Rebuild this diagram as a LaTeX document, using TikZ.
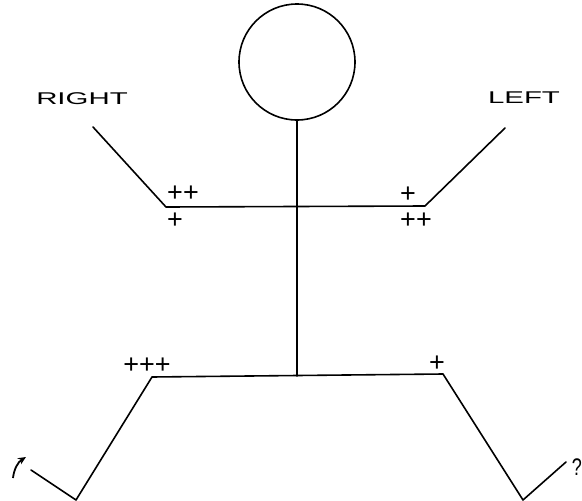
\documentclass[tikz,border=0pt]{standalone}
\usepackage{fontspec}
\setmainfont{Liberation Sans}
\usetikzlibrary{arrows.meta}
\tikzset{
  limb/.style={line width=1.6pt, line cap=round, line join=round},
  sidelabel/.style={inner sep=0pt, font=\fontsize{17}{17}\selectfont},
  plus/.style={inner sep=0pt, font=\fontsize{27}{27}\selectfont},
}
\begin{document}
\begin{tikzpicture}[x=1pt,y=-1pt]
\useasboundingbox (0,0) rectangle (582,501);
% joints
\coordinate (pelvis) at (297,376);
\coordinate (shR) at (166,207);
\coordinate (shL) at (425,206);
\coordinate (handR) at (93,127);
\coordinate (handL) at (505,128);
\coordinate (hipR) at (152,377);
\coordinate (hipL) at (443,374);
\coordinate (kneeR) at (76,500);
\coordinate (kneeL) at (523,500);
\coordinate (footR) at (31,470);
\coordinate (footL) at (566,462);
% head
\node[circle, draw, line width=1.6pt, minimum size=116pt, inner sep=0pt] (head) at (297,62) {};
% body
\draw[limb] (head.south) -- (pelvis);
\draw[limb] (handR) -- (shR) -- (shL) -- (handL);
\draw[limb] (footR) -- (kneeR) -- (hipR) -- (hipL) -- (kneeL) -- (footL);
% labels
\node[sidelabel] (right) at (82,99) {\scalebox{1.73}[1]{RIGHT}};
\node[sidelabel] (left) at (524,98) {\scalebox{1.73}[1]{LEFT}};
\node[plus] (p1) at (183,194) {++};
\node[plus] (p2) at (175,221) {+};
\node[plus] (p3) at (408,195) {+};
\node[plus] (p4) at (416,221) {++};
\node[plus] (p5) at (147,366) {+++};
\node[plus] (p6) at (437,364) {+};
\node[inner sep=0pt, font=\fontsize{24}{24}\selectfont] (q) at (577,467) {\scalebox{0.75}[1]{?}};
% arrow
\coordinate (a0) at (13,478);
\coordinate (a1) at (26,457);
\draw[line width=1.8pt, -{Stealth[length=8pt,width=7pt]}] (a0) .. controls (14,469) and (18,462) .. (a1);
\end{tikzpicture}
\end{document}
